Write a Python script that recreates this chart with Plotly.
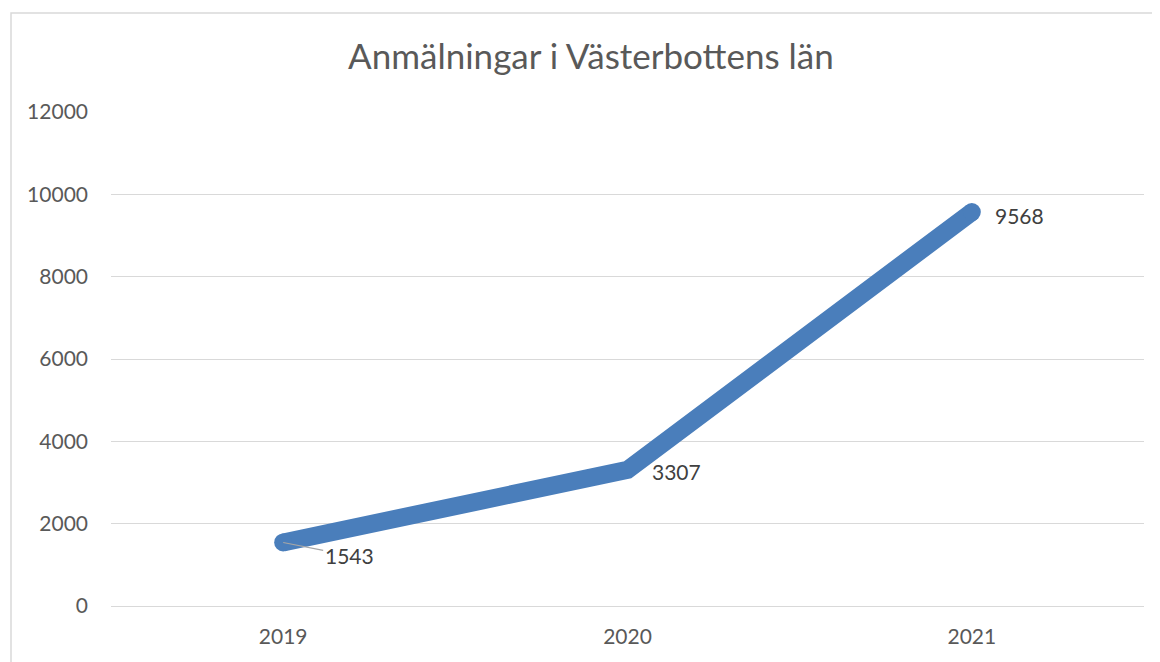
import plotly.graph_objects as go

years = ["2019", "2020", "2021"]
anmalningar = [1543, 3307, 9568]
y_ticks = [0, 2000, 4000, 6000, 8000, 10000, 12000]

line_color = "#4A7EBB"
text_color = "#595959"
font_family = "Lato"

fig = go.Figure()

fig.add_trace(go.Scatter(
    x=years,
    y=anmalningar,
    mode="lines+markers",
    line=dict(color=line_color, width=18),
    marker=dict(color=line_color, size=[18, 0, 18], opacity=1, line=dict(width=0)),
    hoverinfo="x+y",
    showlegend=False,
))

# data labels (category axis -> use index positions)
label_style = [
    dict(showarrow=True, arrowhead=0, arrowcolor="#A6A6A6", arrowwidth=1.2,
         ax=66, ay=13, xanchor="center", yanchor="middle", standoff=0),
    dict(showarrow=False, xanchor="left", xshift=22, yshift=-2),
    dict(showarrow=False, xanchor="left", xshift=21, yshift=-3),
]
for i, (val, style) in enumerate(zip(anmalningar, label_style)):
    fig.add_annotation(x=i, y=val, text=str(val),
                       font=dict(size=21, color="#404040", family=font_family),
                       **style)

# chart area border
fig.add_shape(type="rect", xref="paper", yref="paper",
              x0=-0.0968, x1=1.2, y0=-0.3, y1=1.2004,
              line=dict(color="#D9D9D9", width=1.5), fillcolor="rgba(0,0,0,0)",
              layer="below")

fig.update_layout(
    width=1152,
    height=654,
    margin=dict(l=103, r=16, t=104, b=56),
    paper_bgcolor="white",
    plot_bgcolor="white",
    title=dict(text="Anmälningar i Västerbottens län", x=0.506, xanchor="center",
               y=0.925, yanchor="middle",
               font=dict(size=35, color=text_color, family=font_family)),
    font=dict(family=font_family, color=text_color, size=21),
)

fig.update_xaxes(
    type="category",
    range=[-0.5, 2.5],
    showgrid=False,
    showline=False,
    ticks="",
    ticklabelstandoff=16,
    tickfont=dict(size=21, color=text_color),
)
fig.update_yaxes(
    range=[0, 12000],
    tickvals=y_ticks,
    ticktext=[str(v) for v in y_ticks],
    showgrid=True,
    gridcolor="#D9D9D9",
    gridwidth=1,
    zeroline=True,
    zerolinecolor="#D9D9D9",
    zerolinewidth=1,
    showline=False,
    ticks="",
    ticklabelstandoff=22,
    tickfont=dict(size=21, color=text_color),
)

fig.write_html("out.html")
